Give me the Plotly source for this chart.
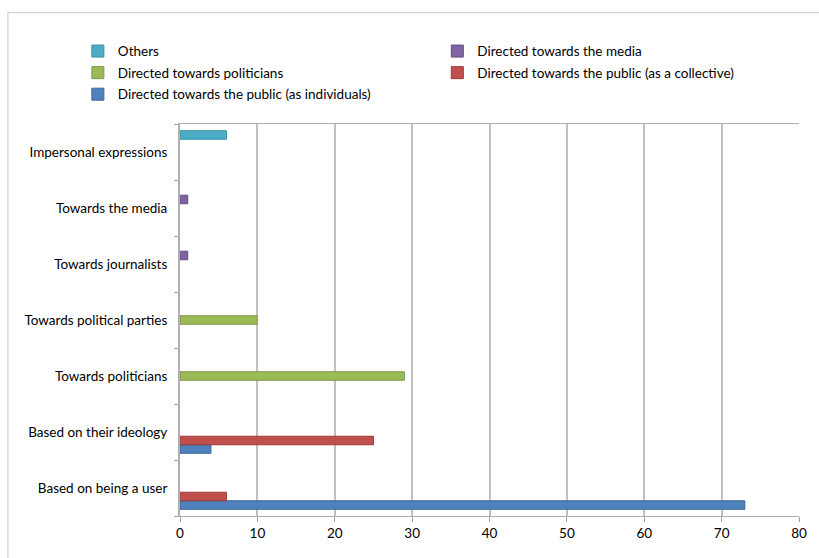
import plotly.graph_objects as go

# Categories, bottom to top
categories = [
    "Based on being a user",
    "Based on their ideology",
    "Towards politicians",
    "Towards political parties",
    "Towards journalists",
    "Towards the media",
    "Impersonal expressions",
]

# Series values per category (None = no bar)
public_individuals = [73, 4, None, None, None, None, None]
public_collective = [6, 25, None, None, None, None, None]
politicians = [None, None, 29, 10, None, None, None]
media = [None, None, None, None, 1, 1, None]
others = [None, None, None, None, None, None, 6]

# name, values, fill, edge, legend column, rank within column
series = [
    ("Directed towards the public (as individuals)", public_individuals, "#4F81BD", "#3A6699", "legend", 3),
    ("Directed towards the public (as a collective)", public_collective, "#C0504D", "#9A3B39", "legend2", 2),
    ("Directed towards politicians", politicians, "#9BBB59", "#7D9A44", "legend", 2),
    ("Directed towards the media", media, "#8064A2", "#644C82", "legend2", 1),
    ("Others", others, "#4BACC6", "#3890A8", "legend", 1),
]

x_ticks = [0, 10, 20, 30, 40, 50, 60, 70, 80]

FONT = "Lato, Calibri, Carlito, sans-serif"
FS = 13.5

fig = go.Figure()
for name, vals, color, edge, leg, rank in series:
    fig.add_trace(go.Bar(
        name=name,
        y=categories,
        x=vals,
        orientation="h",
        legend=leg,
        legendgroup=name,
        legendrank=rank,
        marker=dict(color=color, line=dict(color=edge, width=1)),
    ))

legend_common = dict(
    orientation="v",
    traceorder="grouped",
    xanchor="left",
    yanchor="top",
    itemwidth=30,
    tracegroupgap=1,
    font=dict(family=FONT, size=FS),
    bgcolor="rgba(0,0,0,0)",
)

fig.update_layout(
    width=819,
    height=558,
    margin=dict(l=180, r=17, t=124, b=42),
    paper_bgcolor="white",
    plot_bgcolor="white",
    barmode="group",
    bargap=0.24,
    bargroupgap=0,
    font=dict(family=FONT, size=FS, color="#000000"),
    showlegend=True,
    legend=dict(x=-0.165, y=1.225, **legend_common),
    legend2=dict(x=0.4157, y=1.225, **legend_common),
    xaxis=dict(
        range=[0, 80],
        tickvals=x_ticks,
        showgrid=True,
        gridcolor="#C0C0C0",
        gridwidth=2,
        zeroline=False,
        showline=True,
        linecolor="#B0B0B0",
        linewidth=1,
        mirror=True,
        ticks="outside",
        ticklen=5,
        tickcolor="#A0A0A0",
        tickfont=dict(family=FONT, size=FS),
    ),
    yaxis=dict(
        categoryorder="array",
        categoryarray=categories,
        showgrid=False,
        zeroline=False,
        showline=True,
        linecolor="#B0B0B0",
        linewidth=2,
        ticks="outside",
        tickson="boundaries",
        ticklen=4,
        tickcolor="#A0A0A0",
        ticklabelstandoff=8,
        tickfont=dict(family=FONT, size=FS),
    ),
    shapes=[
        # outer chart frame
        dict(
            type="rect",
            xref="paper", yref="paper",
            x0=-0.278, x1=1.2, y0=-0.3, y1=1.284,
            line=dict(color="#C8C8C8", width=1),
            fillcolor="rgba(0,0,0,0)",
            layer="below",
        ),
    ],
)

fig.write_html("out.html")
